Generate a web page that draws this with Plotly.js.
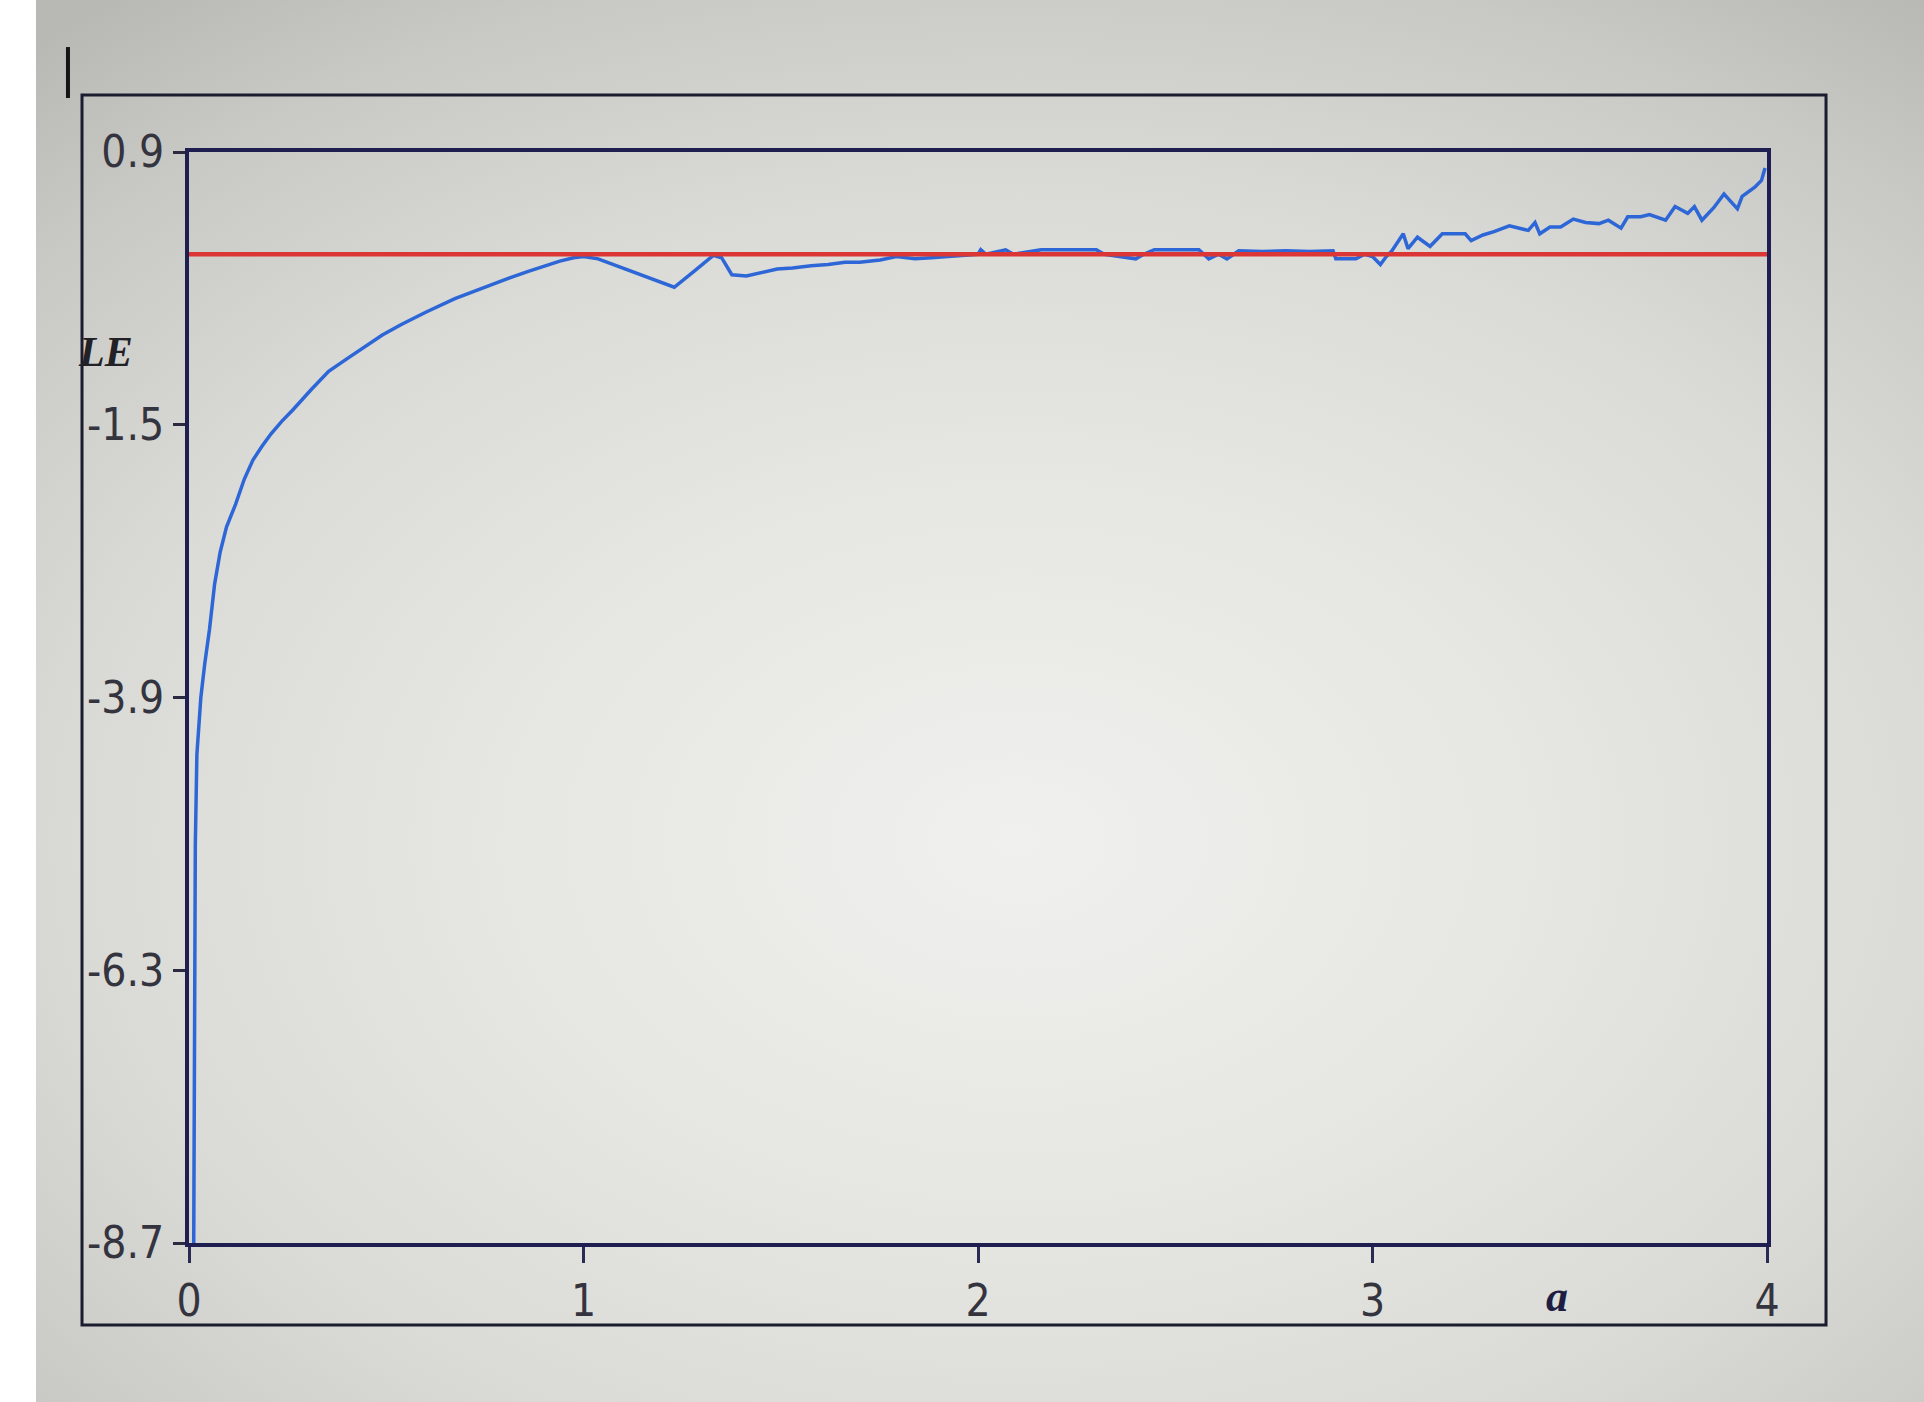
<!DOCTYPE html>
<html>
<head>
<meta charset="utf-8">
<script src="https://cdn.plot.ly/plotly-3.0.1.min.js"></script>
<style>
  html, body { margin: 0; padding: 0; width: 1924px; height: 1402px; overflow: hidden; background: #ffffff; }
  #photo { position: absolute; left: 36px; top: 0; width: 1888px; height: 1402px;
    background: radial-gradient(ellipse 80% 75% at 52% 60%, #f0f0ee 0%, #e6e6e2 35%, #dadad6 62%, #c8c8c4 85%, #b8b8b4 100%); }
  #chart { position: absolute; left: 0; top: 0; width: 1924px; height: 1402px; }
</style>
</head>
<body>
<div id="photo"></div>
<div id="chart"></div>
<script>
// parameter a (x axis)
const aValues = [
  0.012, 0.013, 0.014, 0.016, 0.020, 0.030, 0.040, 0.052, 0.065, 0.079,
  0.095, 0.118, 0.140, 0.162, 0.185, 0.208, 0.235, 0.263, 0.310, 0.354,
  0.400, 0.447, 0.490, 0.537, 0.600, 0.674, 0.740, 0.811, 0.860, 0.902,
  0.940, 0.975, 1.000, 1.037, 1.100, 1.170, 1.230, 1.280, 1.329, 1.350,
  1.376, 1.413, 1.450, 1.491, 1.530, 1.577, 1.620, 1.663, 1.700, 1.752,
  1.793, 1.840, 1.882, 1.930, 1.970, 2.000, 2.007, 2.020, 2.070, 2.090,
  2.160, 2.300, 2.320, 2.400, 2.420, 2.447, 2.560, 2.585, 2.610, 2.631,
  2.661, 2.720, 2.780, 2.840, 2.900, 2.907, 2.958, 2.980, 3.000, 3.020,
  3.035, 3.049, 3.078, 3.090, 3.114, 3.146, 3.177, 3.235, 3.250, 3.280,
  3.308, 3.347, 3.395, 3.412, 3.424, 3.450, 3.477, 3.509, 3.540, 3.574,
  3.598, 3.630, 3.647, 3.680, 3.702, 3.743, 3.767, 3.799, 3.816, 3.835,
  3.865, 3.891, 3.925, 3.937, 3.969, 3.986, 3.995
];
// Lyapunov exponent LE (blue curve)
const leValues = [
  -8.70, -7.50, -6.30, -5.20, -4.40, -3.90, -3.60, -3.30, -2.90, -2.62,
  -2.40, -2.20, -1.98, -1.81, -1.69, -1.58, -1.47, -1.37, -1.19, -1.03,
  -0.92, -0.81, -0.71, -0.62, -0.51, -0.39, -0.30, -0.21, -0.15, -0.10,
  -0.06, -0.03, -0.02, -0.04, -0.12, -0.21, -0.29, -0.15, -0.01, -0.03,
  -0.18, -0.19, -0.16, -0.13, -0.12, -0.10, -0.09, -0.07, -0.07, -0.05,
  -0.02, -0.04, -0.03, -0.02, -0.01, 0.00, 0.04, 0.00, 0.04, 0.00,
  0.04, 0.04, 0.00, -0.04, 0.00, 0.04, 0.04, -0.04, 0.00, -0.04,
  0.03, 0.025, 0.03, 0.025, 0.03, -0.04, -0.04, 0.00, -0.02, -0.09,
  -0.02, 0.03, 0.18, 0.05, 0.15, 0.07, 0.18, 0.18, 0.12, 0.17,
  0.20, 0.25, 0.21, 0.28, 0.18, 0.24, 0.24, 0.31, 0.28, 0.27,
  0.30, 0.23, 0.33, 0.33, 0.35, 0.30, 0.42, 0.36, 0.42, 0.30,
  0.41, 0.53, 0.40, 0.51, 0.59, 0.65, 0.76
];
// zero reference line (red)
const refA = [0, 4];
const refLE = [0, 0];

const xTicks = [0, 1, 2, 3, 4];
const xTickText = ['0', '1', '2', '3', '4'];
const yTicks = [-8.7, -6.3, -3.9, -1.5, 0.9];
const yTickText = ['-8.7', '-6.3', '-3.9', '-1.5', '0.9'];

const tickFont = {family: 'DejaVu Sans Condensed, Liberation Sans Narrow, Liberation Sans, Arial', size: 44, color: '#34343f'};

const data = [
  {x: aValues, y: leValues, type: 'scatter', mode: 'lines',
   line: {color: '#2d66d6', width: 3.5}, hoverinfo: 'skip', showlegend: false},
  {x: refA, y: refLE, type: 'scatter', mode: 'lines',
   line: {color: '#dc3535', width: 4.5}, hoverinfo: 'skip', showlegend: false}
];

const layout = {
  width: 1924, height: 1402,
  paper_bgcolor: 'rgba(0,0,0,0)', plot_bgcolor: 'rgba(0,0,0,0)',
  margin: {l: 189, r: 157, t: 152, b: 159},
  showlegend: false,
  xaxis: {range: [0, 4], tickvals: xTicks, ticktext: xTickText, ticks: 'outside', ticklen: 16,
    tickwidth: 3, tickcolor: '#2a2a55', showline: true, linecolor: '#1e1e50', linewidth: 4,
    mirror: true, showgrid: false, zeroline: false, tickfont: tickFont, fixedrange: true},
  yaxis: {range: [-8.7, 0.9], tickvals: yTicks, ticktext: yTickText, ticks: 'outside', ticklen: 12,
    tickwidth: 3, tickcolor: '#2a2a40', showline: true, linecolor: '#1e1e50', linewidth: 4,
    mirror: true, showgrid: false, zeroline: false, tickfont: tickFont, fixedrange: true},
  shapes: [
    {type: 'rect', xref: 'paper', yref: 'paper', x0: -0.0678, x1: 1.0374, y0: -0.0752, y1: 1.0522,
     line: {color: '#1c1c30', width: 3}, fillcolor: 'rgba(0,0,0,0)', layer: 'below'},
    {type: 'line', xref: 'paper', yref: 'paper', x0: -0.0767, x1: -0.0767, y0: 1.0495, y1: 1.0962,
     line: {color: '#151515', width: 4}}
  ],
  annotations: [
    {text: '<b><i>LE</i></b>', xref: 'paper', yref: 'paper', x: -0.0526, y: 0.8167,
     xanchor: 'center', yanchor: 'middle', showarrow: false,
     font: {family: 'Liberation Serif, Times New Roman, serif', size: 42, color: '#222226'}},
    {text: '<b><i>a</i></b>', xref: 'paper', yref: 'paper', x: 0.8669, y: -0.0486,
     xanchor: 'center', yanchor: 'middle', showarrow: false,
     font: {family: 'Liberation Serif, Times New Roman, serif', size: 44, color: '#1e1e44'}}
  ]
};

Plotly.newPlot('chart', data, layout, {staticPlot: true, displayModeBar: false});
</script>
</body>
</html>
